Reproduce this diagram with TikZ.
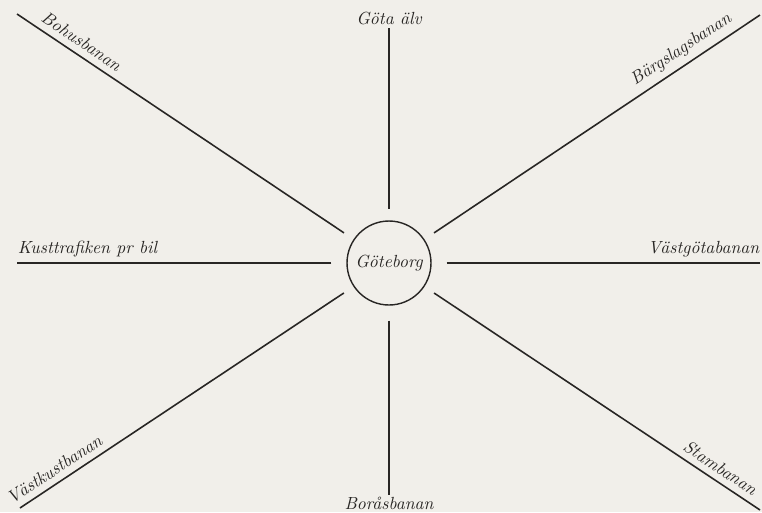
\documentclass[tikz,border=0pt]{standalone}
\usepackage{fontspec}
\usepackage{tikz}
\usepackage{xcolor}
\usetikzlibrary{calc}
\definecolor{paper}{RGB}{241,239,234}
\definecolor{ink}{RGB}{40,38,36}

\begin{document}
\begin{tikzpicture}[
    x=0.02cm, y=-0.02cm,
    font=\itshape,
    city/.style ={draw=ink, circle, line width=0.8pt, minimum size=1.68cm,
                  inner sep=0pt, text=ink},
    bana/.style ={draw=ink, line width=0.9pt, shorten <=2.3mm},
    flat/.style ={bana, shorten <=3mm},
    lbl/.style  ={text=ink, inner sep=1.5pt},
    slbl/.style ={lbl, sloped, above, inner sep=3.5pt},
    endlbl/.style={lbl, inner xsep=0pt, inner ysep=3pt}
]

% paper, also fixes the margins
\fill[paper] (0,0) rectangle (762,512);
\useasboundingbox (0,0) rectangle (762,512);

% the city in the middle
\node[city] (gbg) at (389,263) {Göteborg};

% outer ends of the lines
\coordinate (bohus)    at (17,14);
\coordinate (bergslag) at (760,15);
\coordinate (alv)      at (389,28);
\coordinate (kust)     at (17,263);
\coordinate (vastgota) at (760,263);
\coordinate (vastkust) at (20,508);
\coordinate (boras)    at (389,495);
\coordinate (stam)     at (760,510);

% --- Diagonal lines ---
\draw[bana] (gbg) -- (bohus)   node[slbl, pos=0.83]  {Bohusbanan};
\draw[bana] (gbg) -- (bergslag) node[slbl, pos=0.79] {Bärgslagsbanan};
\draw[bana] (gbg) -- (vastkust) node[slbl, pos=0.875] {Västkustbanan};
\draw[bana] (gbg) -- (stam)    node[slbl, pos=0.86] {Stambanan};

% --- Straight lines ---
\draw[flat] (gbg) -- (kust)
    node[endlbl, at end, anchor=south west] {Kusttrafiken pr bil};
\draw[flat] (gbg) -- (vastgota)
    node[endlbl, at end, anchor=south east] {Västgötabanan};
\draw[bana] (gbg) -- (alv)
    node[lbl, at end, above] {Göta älv};
\draw[flat] (gbg) -- (boras)
    node[lbl, at end, below, inner sep=0.5pt] {Boråsbanan};

\end{tikzpicture}
\end{document}
